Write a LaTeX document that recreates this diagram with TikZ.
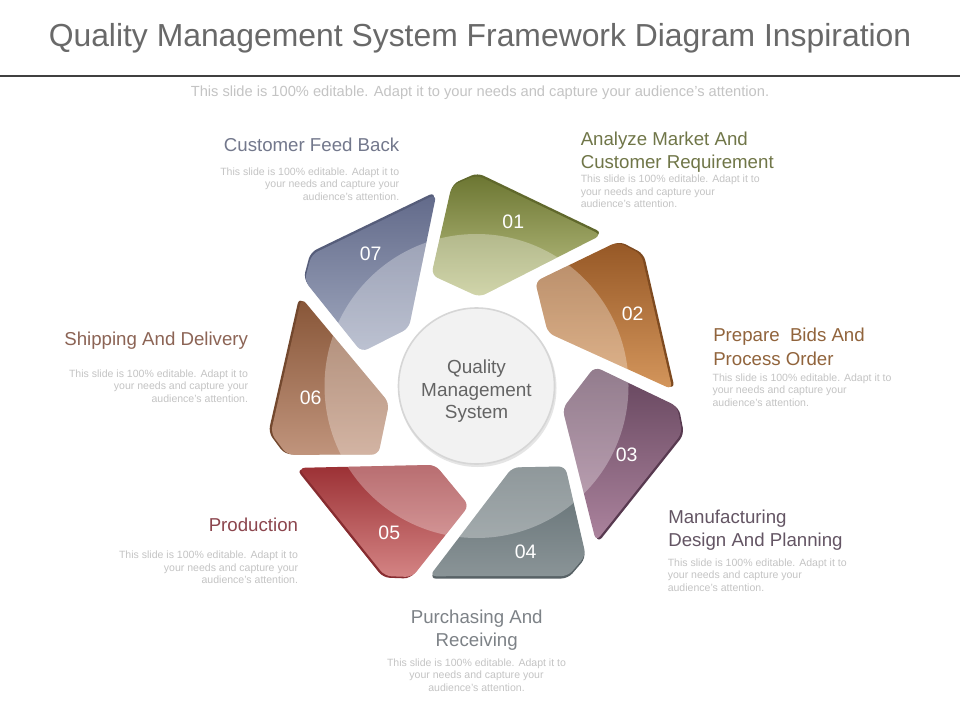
\documentclass[tikz,border=0pt]{standalone}
\usepackage{fontspec}
\setmainfont{Liberation Sans}
\usetikzlibrary{calc}
\definecolor{titlegray}{RGB}{105,105,105}
\definecolor{rulegray}{RGB}{64,64,64}
\definecolor{bodygray}{RGB}{196,196,196}
\definecolor{centergray}{RGB}{100,100,100}
\definecolor{s1t}{RGB}{108,118,50}\definecolor{s1b}{RGB}{190,196,135}\definecolor{s1e}{RGB}{96,104,44}
\definecolor{s2t}{RGB}{150,88,38}\definecolor{s2b}{RGB}{212,150,92}\definecolor{s2e}{RGB}{126,74,32}
\definecolor{s3t}{RGB}{100,68,92}\definecolor{s3b}{RGB}{172,132,158}\definecolor{s3e}{RGB}{88,58,80}
\definecolor{s4t}{RGB}{95,108,112}\definecolor{s4b}{RGB}{138,148,151}\definecolor{s4e}{RGB}{88,98,102}
\definecolor{s5t}{RGB}{155,48,52}\definecolor{s5b}{RGB}{212,132,132}\definecolor{s5e}{RGB}{135,44,48}
\definecolor{s6t}{RGB}{135,85,55}\definecolor{s6b}{RGB}{192,148,124}\definecolor{s6e}{RGB}{115,72,46}
\definecolor{s7t}{RGB}{98,106,138}\definecolor{s7b}{RGB}{160,168,190}\definecolor{s7e}{RGB}{86,93,122}
\definecolor{h1}{RGB}{112,118,72}
\definecolor{h2}{RGB}{145,100,60}
\definecolor{h3}{RGB}{100,85,100}
\definecolor{h4}{RGB}{125,130,135}
\definecolor{h5}{RGB}{140,70,78}
\definecolor{h6}{RGB}{140,100,85}
\definecolor{h7}{RGB}{115,120,140}
% one pinwheel piece, #1 = its base angle (image orientation)
\newcommand\segpath[1]{($(#1+1.9:89)!0.5!(#1-22.1:119.8)$) -- (#1-22.1:119.8) -- (#1-7.1:201.6) -- (#1:211) -- (#1+39.6:196) -- (#1+1.9:89) -- cycle}
\begin{document}
\begin{tikzpicture}[x=0.75pt,y=-0.75pt,
  heading/.style={inner sep=0pt, font=\fontsize{14}{17.5}\selectfont},
  bodytext/.style={inner sep=0pt, text=bodygray, font=\fontsize{7.9}{9.5}\selectfont},
  numlabel/.style={inner sep=0pt, text=white, font=\fontsize{14.6}{17}\selectfont},
  piece/.style={rounded corners=5pt}]
\useasboundingbox[fill=white] (0,0) rectangle (960,720);

% title
\node[inner sep=0pt, anchor=base, text=titlegray, font=\fontsize{23.9}{28}\selectfont] (title) at (480,47) {Quality Management System Framework Diagram Inspiration};
\draw[rulegray, line width=2pt] (0,76) -- (960,76);
\node[inner sep=0pt, anchor=base, text=bodygray, font=\fontsize{11}{13}\selectfont] (subtitle) at (480,97) {This slide is 100\% editable. Adapt it to your needs and capture your audience's attention.};

% pinwheel
\begin{scope}[shift={(476.5,386)}]
\foreach \k/\ct/\cb/\ce in {0/s1t/s1b/s1e,1/s2t/s2b/s2e,2/s3t/s3b/s3e,3/s4t/s4b/s4e,4/s5t/s5b/s5e,5/s6t/s6b/s6e,6/s7t/s7b/s7e}{
  \pgfmathsetmacro\B{-90+\k*360/7}
  \begin{scope}[shift={(\B+25.6:2.4)}]
    \fill[\ce, piece] \segpath{\B};
  \end{scope}
  \shade[piece, top color=\ct, bottom color=\cb] \segpath{\B};
  \begin{scope}
    \clip[piece] \segpath{\B};
    \fill[white, opacity=0.3] (0,0) circle (152);
  \end{scope}
}
\end{scope}

% centre
\fill[black!10] (477.5,388) circle (79);
\node[circle, minimum size=156*0.75pt, inner sep=0pt, fill=black!5, draw=black!16, line width=1.2pt] (hub) at (476.5,386) {};
\node[inner sep=0pt, anchor=north, align=center, text=centergray, font=\fontsize{14.2}{16.9}\selectfont] (hubtext) at (476.5,359.6) {Quality\\Management\\System};

% numbers
\node[numlabel] (n1) at (513.3,222) {01};
\node[numlabel] (n2) at (632.7,313.3) {02};
\node[numlabel] (n3) at (626.7,455) {03};
\node[numlabel] (n4) at (525.7,551.7) {04};
\node[numlabel] (n5) at (389.3,532.7) {05};
\node[numlabel] (n6) at (310.7,397.3) {06};
\node[numlabel] (n7) at (370.7,254) {07};

% labels
\node[heading, text=h1, anchor=north west, align=left] (t1) at (580.5,131.5) {Analyze Market And\\Customer Requirement};
\node[bodytext, anchor=north west, align=left] (b1) at (580.5,174.7) {This slide is 100\% editable. Adapt it to\\your needs and capture your\\audience's attention.};

\node[heading, text=h2, anchor=north west, align=left] (t2) at (713,328.2) {Prepare\ \ Bids And\\Process Order};
\node[bodytext, anchor=north west, align=left] (b2) at (712.3,373.1) {This slide is 100\% editable. Adapt it to\\your needs and capture your\\audience's attention.};

\node[heading, text=h3, anchor=north west, align=left] (t3) at (668,509.8) {Manufacturing\\Design And Planning};
\node[bodytext, anchor=north west, align=left] (b3) at (667.5,558.4) {This slide is 100\% editable. Adapt it to\\your needs and capture your\\audience's attention.};

\node[heading, text=h4, anchor=north, align=center] (t4) at (476.7,609.8) {Purchasing And\\Receiving};
\node[bodytext, anchor=north, align=center] (b4) at (476.5,658.1) {This slide is 100\% editable. Adapt it to\\your needs and capture your\\audience's attention.};

\node[heading, text=h5, anchor=base east] (t5) at (298.3,531.7) {Production};
\node[bodytext, anchor=north east, align=right] (b5) at (298.3,550.7) {This slide is 100\% editable. Adapt it to\\your needs and capture your\\audience's attention.};

\node[heading, text=h6, anchor=base east] (t6) at (248.3,345) {Shipping And Delivery};
\node[bodytext, anchor=north east, align=right] (b6) at (248.3,369.1) {This slide is 100\% editable. Adapt it to\\your needs and capture your\\audience's attention.};

\node[heading, text=h7, anchor=base east] (t7) at (399.5,151.7) {Customer Feed Back};
\node[bodytext, anchor=north east, align=right] (b7) at (399.5,167.4) {This slide is 100\% editable. Adapt it to\\your needs and capture your\\audience's attention.};
\end{tikzpicture}
\end{document}
